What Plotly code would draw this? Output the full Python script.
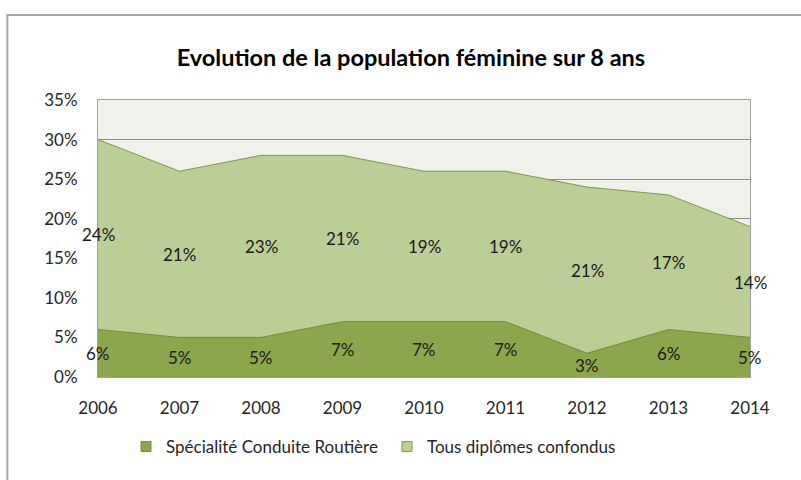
import plotly.graph_objects as go

years = ["2006", "2007", "2008", "2009", "2010", "2011", "2012", "2013", "2014"]
specialite = [6, 5, 5, 7, 7, 7, 3, 6, 5]
tous = [24, 21, 23, 21, 19, 19, 21, 17, 14]
y_ticks = [0, 5, 10, 15, 20, 25, 30, 35]
y_tick_text = [f"{v}%" for v in y_ticks]
names = ["Spécialité Conduite Routière", "Tous diplômes confondus"]

dark = "#8BA64C"
light = "#BACE96"
font_family = "Lato, 'Open Sans', sans-serif"

fig = go.Figure()
fig.add_trace(go.Scatter(
    x=years, y=specialite, name=names[0], showlegend=False,
    stackgroup="s", mode="lines", line=dict(color="#6F8A3A", width=1),
    fillcolor=dark,
))
fig.add_trace(go.Scatter(
    x=years, y=tous, name=names[1], showlegend=False,
    stackgroup="s", mode="lines", line=dict(color="#7C9947", width=1),
    fillcolor=light,
))
# legend entries (square markers, like the reference)
for nm, col, edge in [(names[0], dark, "#6F8A3A"), (names[1], light, "#7C9947")]:
    fig.add_trace(go.Scatter(
        x=[None], y=[None], name=nm, mode="markers",
        marker=dict(symbol="square", size=10, color=col, line=dict(color=edge, width=1)),
    ))

annotations = []
for i, yr in enumerate(years):
    annotations.append(dict(x=i, y=specialite[i] / 2, xref="x", yref="y",
                            text=f"{specialite[i]}%", showarrow=False,
                            font=dict(family=font_family, size=17, color="#1a1a1a")))
    annotations.append(dict(x=i, y=specialite[i] + tous[i] / 2, xref="x", yref="y",
                            text=f"{tous[i]}%", showarrow=False,
                            font=dict(family=font_family, size=17, color="#1a1a1a")))

fig.update_layout(
    width=801, height=480,
    margin=dict(l=98, r=51, t=100, b=103, autoexpand=False),
    paper_bgcolor="white",
    plot_bgcolor="#EFF1EA",
    title=dict(text="<b>Evolution de la population féminine sur 8 ans</b>",
               x=0.513, xanchor="center", y=1 - 58 / 480, yanchor="middle",
               font=dict(family=font_family, size=23.5, color="#000000")),
    font=dict(family=font_family, size=17, color="#333333"),
    showlegend=True,
    legend=dict(orientation="h", xref="container", yref="container",
                x=126 / 801, xanchor="left", y=1 - 447 / 480, yanchor="middle",
                font=dict(family=font_family, size=17, color="#262626"),
                traceorder="normal", entrywidth=216, bgcolor="rgba(0,0,0,0)"),
    annotations=annotations,
    shapes=[dict(type="rect", xref="paper", yref="paper",
                 x0=-0.139, x1=1.2, y0=-0.6, y1=1.307,
                 line=dict(color="#A6A6A6", width=2), fillcolor="rgba(0,0,0,0)",
                 layer="below")],
)
fig.update_xaxes(type="category", range=[0, 8], showgrid=False, automargin=False,
                 showline=True, linecolor="#A0A0A0", linewidth=1, mirror=True,
                 ticks="", ticklabelstandoff=16, tickfont=dict(size=17, color="#262626"))
fig.update_yaxes(range=[0, 35], tickvals=y_ticks, ticktext=y_tick_text, automargin=False,
                 showgrid=True, gridcolor="#8E8E8E", gridwidth=1,
                 showline=True, linecolor="#A0A0A0", linewidth=1, mirror=True,
                 ticks="", zeroline=False, ticklabelstandoff=16,
                 tickfont=dict(size=17, color="#262626"))

fig.write_html("out.html", config={"displayModeBar": False},
               post_script="document.body.style.margin='0';")
